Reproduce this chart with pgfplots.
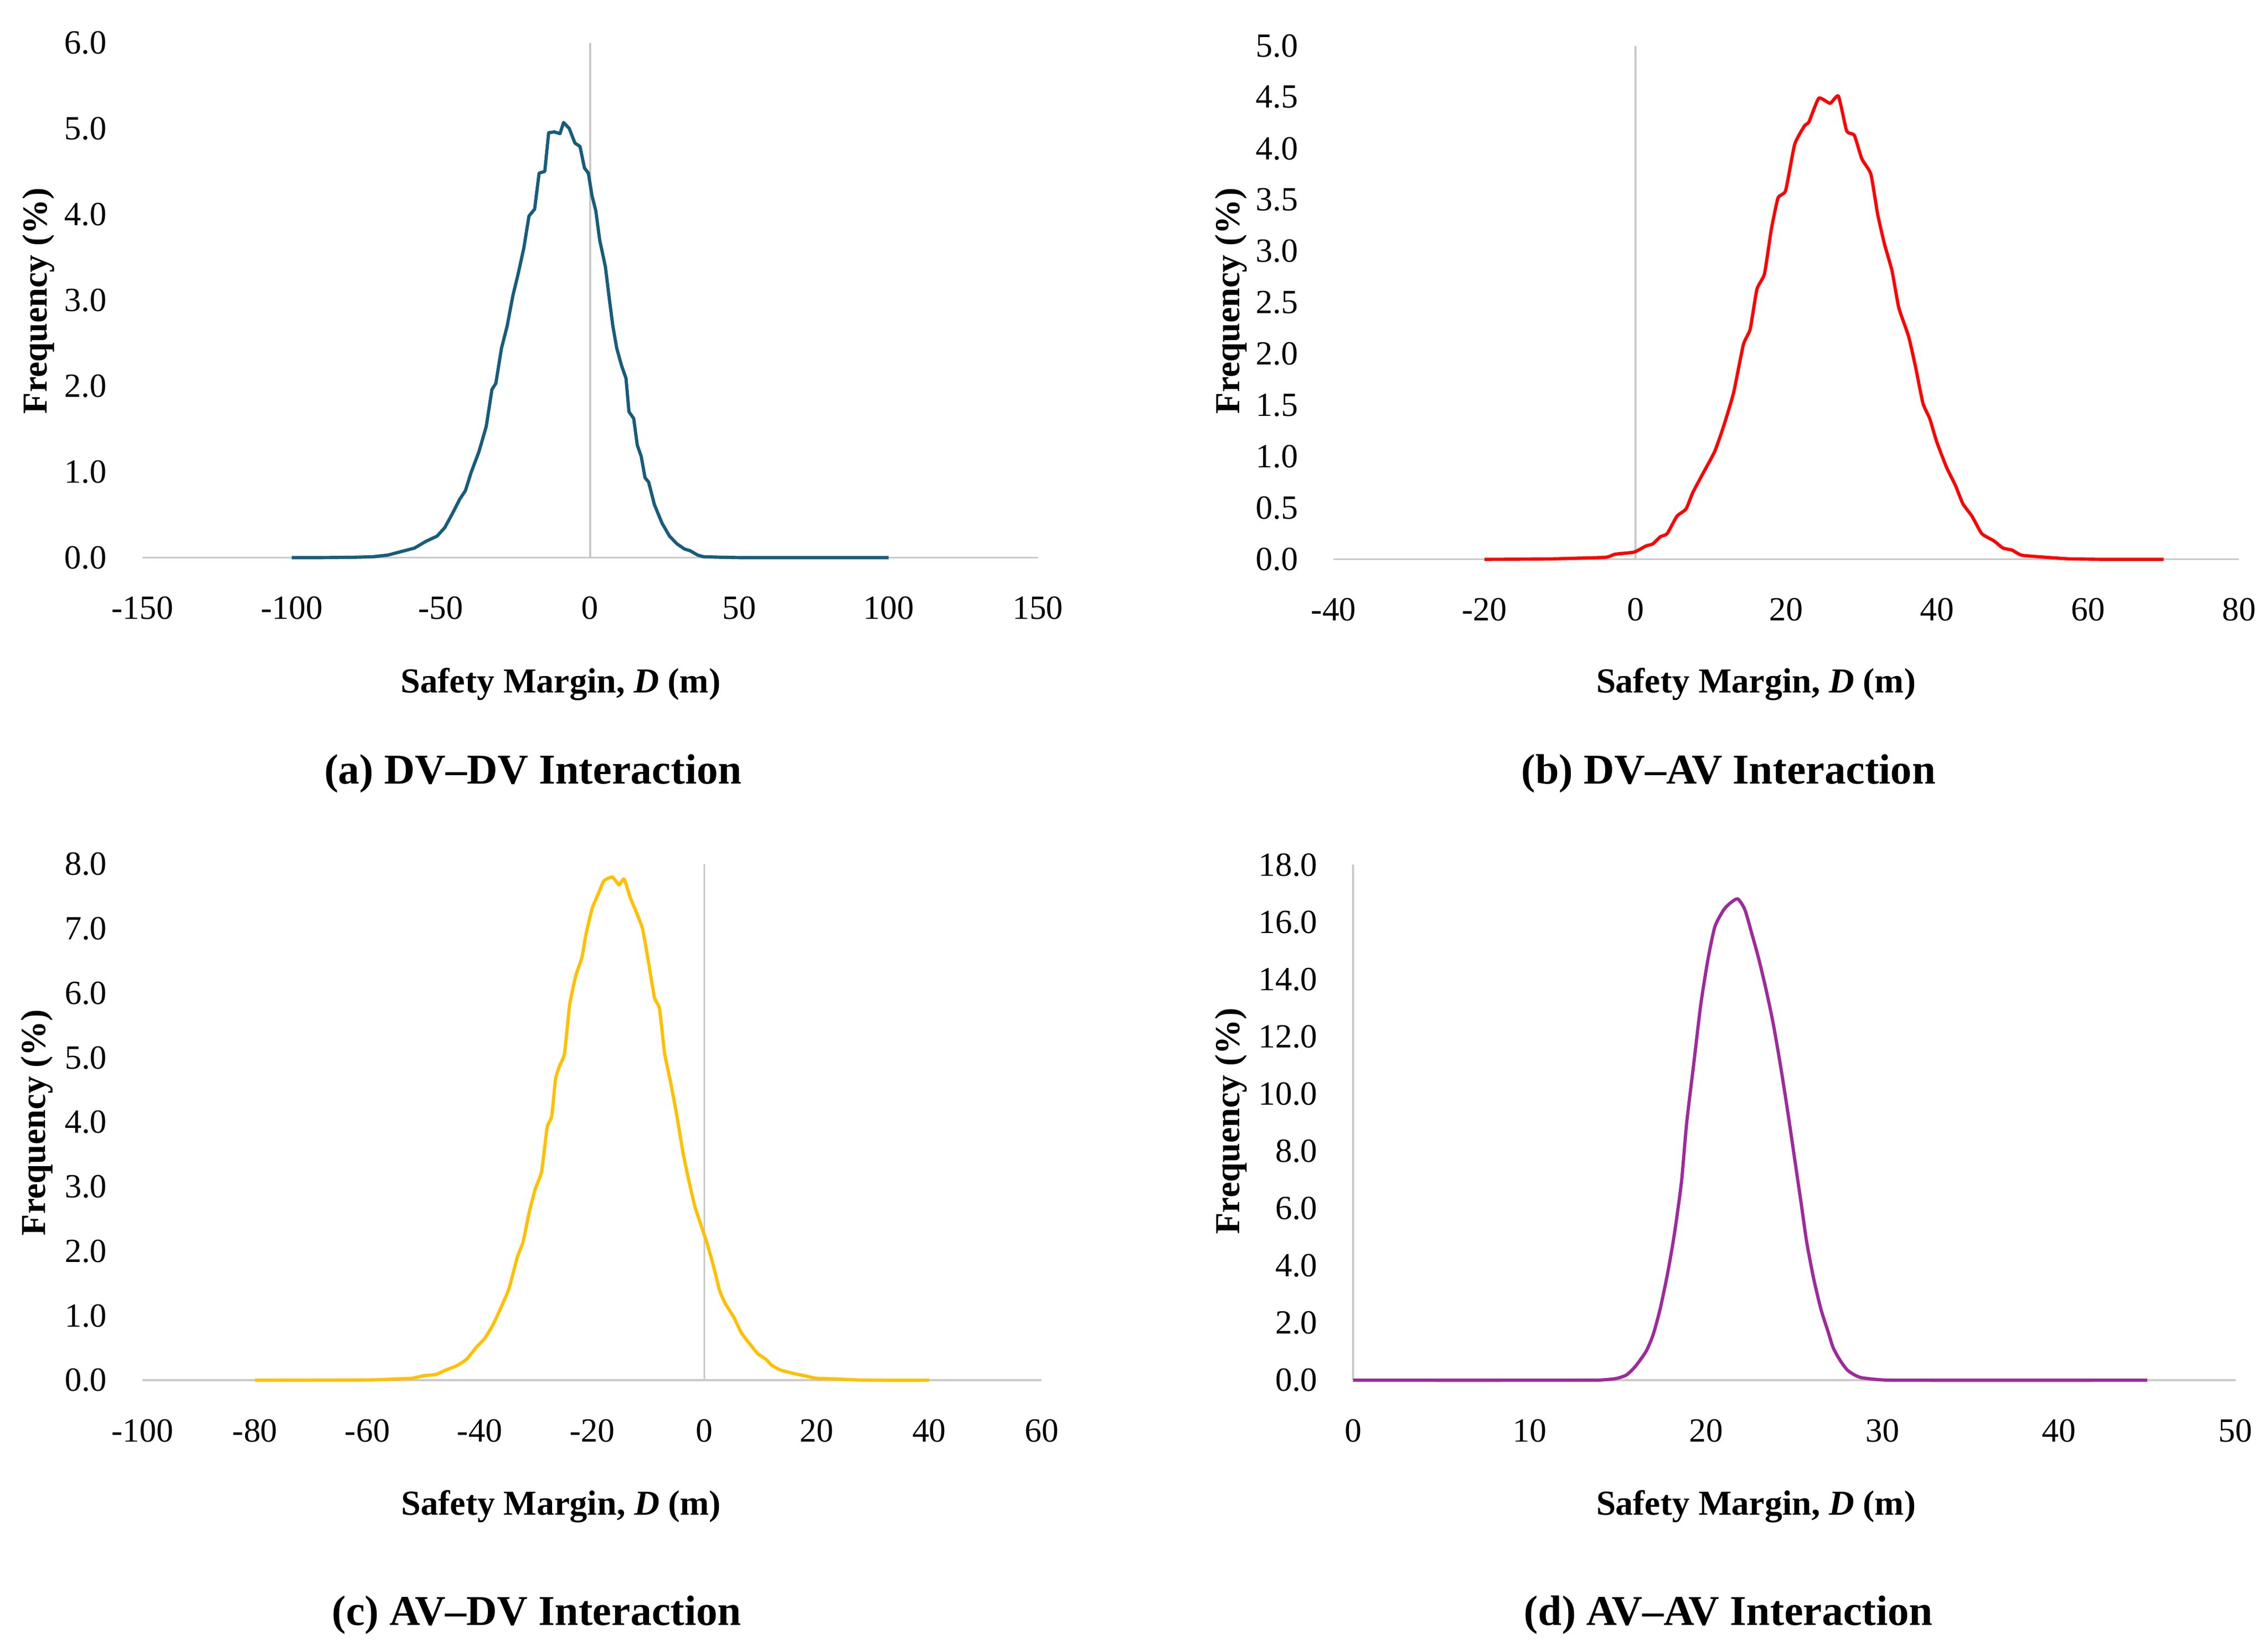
\documentclass[border=0pt]{standalone}
\usepackage{fontspec}
\setmainfont{Liberation Serif}
\usepackage{pgfplots}
\pgfplotsset{compat=1.18}
\definecolor{cA}{HTML}{185C7C}
\definecolor{cB}{HTML}{FF0000}
\definecolor{cC}{HTML}{FFC000}
\definecolor{cD}{HTML}{9E2A9C}
\definecolor{axgray}{HTML}{C9C9C9}
\newcommand\tickfont{\fontsize{13.3pt}{15pt}\selectfont}
\newcommand\labfont{\fontsize{13.8pt}{16pt}\selectfont\bfseries}
\newcommand\titfont{\fontsize{16.7pt}{19pt}\selectfont\bfseries}
\pgfplotsset{
  panel/.style={
    scale only axis, clip=false, anchor=south west,
    axis x line*=bottom, axis y line*=left,
    x axis line style={draw=axgray, line width=0.25mm},
    y axis line style={draw=none},
    major tick length=0pt, tick style={draw=none},
    xticklabel style={anchor=base, yshift=-8.5mm, inner sep=0pt, font=\tickfont},
    yticklabel style={anchor=east, xshift=-4.86mm, inner sep=0pt, font=\tickfont},
    ymin=0,
  },
  curve/.style={line width=0.45mm, line join=round, mark=none},
}
\begin{document}
\begin{tikzpicture}
\path[use as bounding box] (0,0) rectangle (313.6mm,227.3mm);

% ---------------- (a) DV-DV ----------------
\begin{axis}[panel, at={(19.7mm,150.2mm)},
  width=123.8mm, height=71.2mm,
  xmin=-150, xmax=150, ymax=6,
  xtick={-150,-100,-50,0,50,100,150},
  xticklabels={-150,-100,-50,0,50,100,150},
  ytick={0,1,2,3,4,5,6},
  yticklabels={0.0,1.0,2.0,3.0,4.0,5.0,6.0}]
\draw[axgray, line width=0.25mm] (axis cs:0,0) -- (axis cs:0,6);
\addplot[curve, cA] coordinates {
(-100,0) (-90,0) (-80,0.003) (-72.8,0.01) (-67.7,0.03) (-63.9,0.065) (-58.9,0.11)
(-55,0.19) (-51.3,0.25) (-48.7,0.35) (-46.2,0.51) (-43.7,0.68) (-41.8,0.78)
(-39.9,0.99) (-37.3,1.23) (-34.8,1.53) (-32.9,1.96) (-31.6,2.03) (-29.7,2.44)
(-27.8,2.70) (-25.9,3.05) (-24.1,3.31) (-22.2,3.61) (-20.5,3.98) (-18.6,4.06)
(-17.1,4.48) (-15.2,4.50) (-13.9,4.95) (-12.0,4.96) (-10.1,4.94) (-8.9,5.07)
(-7.0,5.00) (-5.1,4.83) (-3.4,4.79) (-1.9,4.54) (-0.6,4.48) (0.6,4.22) (1.9,4.04)
(3.2,3.70) (5.1,3.39) (6.3,3.05) (7.6,2.70) (8.9,2.44) (10.5,2.24) (12.0,2.09)
(13.0,1.70) (14.6,1.62) (15.8,1.31) (17.1,1.18) (18.4,0.93) (19.6,0.88) (21.5,0.62)
(24.1,0.40) (26.6,0.25) (29.1,0.16) (31.6,0.10) (33.5,0.08) (36,0.03) (38.0,0.01)
(45,0.003) (50,0) (100,0)};
\end{axis}

% ---------------- (b) DV-AV ----------------
\begin{axis}[panel, at={(184.4mm,149.96mm)},
  width=125.2mm, height=71.0mm,
  xmin=-40, xmax=80, ymax=5,
  xtick={-40,-20,0,20,40,60,80},
  xticklabels={-40,-20,0,20,40,60,80},
  ytick={0,0.5,1,1.5,2,2.5,3,3.5,4,4.5,5},
  yticklabels={0.0,0.5,1.0,1.5,2.0,2.5,3.0,3.5,4.0,4.5,5.0}]
\draw[axgray, line width=0.25mm] (axis cs:0,0) -- (axis cs:0,5);
\addplot[curve, cB, smooth, tension=0.3] coordinates {
(-20,0) (-12,0.003) (-8.3,0.01) (-3.9,0.02) (-2.7,0.05) (-0.2,0.07) (1.4,0.13)
(2.3,0.15) (3.3,0.22) (4.2,0.25) (5.5,0.42) (6.7,0.49) (7.6,0.65) (8.9,0.83)
(10.5,1.05) (11.7,1.30) (13.0,1.62) (14.3,2.09) (15.2,2.24) (16.1,2.63) (17.1,2.78)
(18.0,3.21) (18.9,3.52) (19.9,3.59) (21.1,4.04) (22.4,4.22) (23.0,4.26) (24.3,4.49)
(25.8,4.44) (26.9,4.51) (28.0,4.17) (29.0,4.13) (30.0,3.90) (31.2,3.75) (32.1,3.36)
(33.0,3.07) (34.0,2.81) (34.9,2.45) (36.2,2.17) (37.1,1.88) (38.1,1.52) (39.0,1.37)
(39.9,1.15) (41.2,0.90) (42.4,0.72) (43.4,0.54) (44.6,0.42) (45.9,0.25) (47.5,0.18)
(48.7,0.11) (49.9,0.09) (51.2,0.04) (54.4,0.02) (57.5,0.005) (62,0) (70,0)};
\end{axis}

% ---------------- (c) AV-DV ----------------
\begin{axis}[panel, at={(19.72mm,36.46mm)},
  width=124.3mm, height=71.36mm,
  xmin=-100, xmax=60, ymax=8,
  xtick={-100,-80,-60,-40,-20,0,20,40,60},
  xticklabels={-100,-80,-60,-40,-20,0,20,40,60},
  ytick={0,1,2,3,4,5,6,7,8},
  yticklabels={0.0,1.0,2.0,3.0,4.0,5.0,6.0,7.0,8.0}]
\draw[axgray, line width=0.25mm] (axis cs:0,0) -- (axis cs:0,8);
\addplot[curve, cC, smooth, tension=0.3] coordinates {
(-80,0) (-70,0.002) (-59.3,0.005) (-55,0.02) (-52.1,0.03) (-50,0.07) (-47.8,0.09)
(-46,0.16) (-44.2,0.22) (-42.4,0.32) (-40.6,0.51) (-39.1,0.65) (-37.7,0.85)
(-36.3,1.11) (-34.8,1.42) (-33.3,1.91) (-32.3,2.14) (-31.2,2.60) (-30.1,2.97)
(-29.0,3.23) (-28.0,3.92) (-27.2,4.09) (-26.5,4.67) (-25.8,4.87) (-24.9,5.07)
(-24.0,5.82) (-22.9,6.27) (-21.8,6.56) (-21.1,6.91) (-20.0,7.31) (-18.9,7.54)
(-17.9,7.74) (-16.4,7.80) (-15.2,7.68) (-14.3,7.77) (-13.2,7.48) (-12.1,7.25)
(-11.0,6.99) (-9.9,6.45) (-8.9,5.93) (-8.0,5.76) (-7.1,5.07) (-6.0,4.61) (-4.9,4.09)
(-3.8,3.52) (-2.7,3.06) (-1.7,2.69) (-0.6,2.40) (0.5,2.11) (1.6,1.77) (2.7,1.39)
(3.7,1.19) (5.2,0.98) (6.6,0.73) (8.1,0.56) (9.5,0.41) (11.0,0.32) (12.0,0.23)
(13.5,0.16) (15.6,0.11) (17.8,0.07) (20.0,0.03) (23.6,0.02) (27.2,0.005) (32,0) (40,0)};
\end{axis}

% ---------------- (d) AV-AV ----------------
\begin{axis}[panel, at={(187.1mm,36.46mm)},
  width=122.0mm, height=71.26mm,
  xmin=0, xmax=50, ymax=18,
  xtick={0,10,20,30,40,50},
  xticklabels={0,10,20,30,40,50},
  ytick={0,2,4,6,8,10,12,14,16,18},
  yticklabels={0.0,2.0,4.0,6.0,8.0,10.0,12.0,14.0,16.0,18.0}]
\draw[axgray, line width=0.25mm] (axis cs:0,0) -- (axis cs:0,18);
\addplot[curve, cD, smooth, tension=0.4] coordinates {
(0,0) (10,0) (13.5,0.003) (14.1,0.01) (14.9,0.06) (15.5,0.19) (16.0,0.49) (16.6,1.01)
(17.0,1.59) (17.4,2.50) (17.8,3.67) (18.2,5.09) (18.6,6.90) (18.9,8.98) (19.3,11.05)
(19.7,13.12) (20.1,14.68) (20.5,15.84) (21.0,16.43) (21.4,16.68) (21.8,16.81)
(22.2,16.43) (22.6,15.58) (23.0,14.68) (23.4,13.64) (23.8,12.47) (24.2,11.05)
(24.6,9.49) (25.0,7.81) (25.4,6.13) (25.7,4.83) (26.1,3.54) (26.5,2.50) (26.9,1.72)
(27.2,1.14) (27.6,0.69) (28.0,0.36) (28.4,0.19) (28.8,0.09) (29.6,0.03) (30.3,0.005)
(32,0) (45,0)};
\end{axis}

% ---------------- labels ----------------
\node[font=\labfont, rotate=90] at (5.36mm,185.7mm) {Frequency (\%)};
\node[font=\labfont, rotate=90] at (170.2mm,185.7mm) {Frequency (\%)};
\node[font=\labfont, rotate=90] at (5.1mm,72.1mm) {Frequency (\%)};
\node[font=\labfont, rotate=90] at (170.2mm,72.3mm) {Frequency (\%)};

\node[font=\labfont, anchor=base] at (77.54mm,131.5mm) {Safety Margin, \textit{D} (m)};
\node[font=\labfont, anchor=base] at (242.8mm,131.5mm) {Safety Margin, \textit{D} (m)};
\node[font=\labfont, anchor=base] at (77.6mm,17.86mm) {Safety Margin, \textit{D} (m)};
\node[font=\labfont, anchor=base] at (242.8mm,17.86mm) {Safety Margin, \textit{D} (m)};

\node[font=\titfont, anchor=base] at (73.7mm,118.9mm) {(a) DV--DV Interaction};
\node[font=\titfont, anchor=base] at (239.0mm,118.9mm) {(b) DV--AV Interaction};
\node[font=\titfont, anchor=base] at (74.2mm,2.6mm) {(c) AV--DV Interaction};
\node[font=\titfont, anchor=base] at (239.0mm,2.6mm) {(d) AV--AV Interaction};
\end{tikzpicture}
\end{document}
